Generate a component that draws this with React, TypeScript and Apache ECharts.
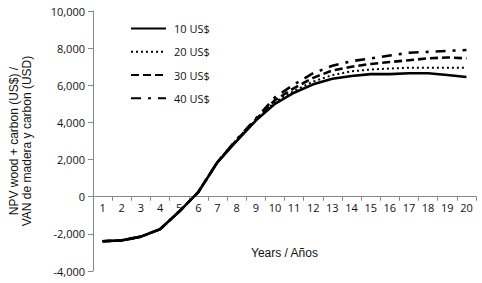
import React, { useEffect, useRef } from "react";
import * as echarts from "echarts";

const years = ["1","2","3","4","5","6","7","8","9","10","11","12","13","14","15","16","17","18","19","20"];
const seriesNames = ["10 US$", "20 US$", "30 US$", "40 US$"];
const us10 = [-2400, -2350, -2150, -1750, -800, 250, 1850, 3000, 4100, 5000, 5600, 6050, 6350, 6500, 6600, 6600, 6650, 6650, 6550, 6450];
const us20 = [-2400, -2350, -2150, -1750, -800, 250, 1850, 3000, 4120, 5100, 5700, 6200, 6550, 6750, 6850, 6900, 6950, 6950, 6950, 6950];
const us30 = [-2400, -2350, -2150, -1750, -800, 250, 1870, 3050, 4150, 5200, 5850, 6400, 6800, 7000, 7150, 7250, 7350, 7450, 7500, 7450];
const us40 = [-2400, -2350, -2150, -1750, -800, 250, 1880, 3080, 4200, 5350, 6050, 6650, 7050, 7300, 7450, 7600, 7750, 7800, 7850, 7900];
const yTicks = { min: -4000, max: 10000, interval: 2000 };

export default function App() {
  const ref = useRef<HTMLDivElement>(null);
  useEffect(() => {
    document.body.style.margin = "0";
    const chart = echarts.init(ref.current!, null, { renderer: "svg" });
    const lbl = { fontFamily: "Open Sans", fontSize: 11, color: "#111" };
    const styles: any[] = [
      { type: "solid", width: 2.6 },
      { type: [2, 3], width: 2 },
      { type: [8, 4], width: 2.6 },
      { type: [10, 7, 3, 7], width: 2.6 },
    ];
    const datas = [us10, us20, us30, us40];
    const top = 11, bottom = 12, H = 283;
    const plotH = H - top - bottom;
    const zeroFromBottom = (0 - yTicks.min) / (yTicks.max - yTicks.min) * plotH;
    chart.setOption({
      animation: false,
      grid: { left: 93, right: 6, top, bottom, containLabel: false, outerBoundsMode: "none" },
      legend: {
        orient: "vertical",
        left: 130,
        top: 23,
        padding: 0,
        itemWidth: 35,
        itemHeight: 14,
        itemGap: 12,
        itemStyle: { opacity: 0, color: "rgba(0,0,0,0)", borderWidth: 0 },
        textStyle: { ...lbl, padding: [0, 0, 0, 3] },
        data: seriesNames,
      },
      xAxis: {
        type: "category",
        data: years,
        boundaryGap: true,
        position: "bottom",
        offset: -zeroFromBottom,
        axisLine: { show: true, onZero: false, lineStyle: { color: "#888", width: 1 } },
        axisTick: { show: true, length: 4, inside: false, lineStyle: { color: "#888" } },
        axisLabel: { ...lbl, margin: 5, interval: 0 },
        name: "Years / Años",
        nameLocation: "middle",
        nameGap: 50,
        nameTextStyle: { fontFamily: "Liberation Sans", fontSize: 12, color: "#111" },
      },
      yAxis: {
        type: "value",
        min: yTicks.min,
        max: yTicks.max,
        interval: yTicks.interval,
        axisLine: { show: true, onZero: false, lineStyle: { color: "#888", width: 1 } },
        axisTick: { show: true, length: 5, lineStyle: { color: "#888" } },
        splitLine: { show: false },
        axisLabel: { ...lbl, margin: 8, formatter: (v: number) => v.toLocaleString("en-US") },
        name: "NPV wood + carbon (US$) /\nVAN de madera y carbon (USD)",
        nameLocation: "middle",
        nameRotate: 90,
        nameGap: 60,
        nameTextStyle: { fontFamily: "Liberation Sans", fontSize: 12, color: "#111", lineHeight: 13 },
      },
      series: seriesNames.map((n, i) => ({
        name: n,
        type: "line",
        data: datas[i],
        symbol: "none",
        showSymbol: false,
        z: 10 - i,
        lineStyle: { color: "#000", width: styles[i].width, type: styles[i].type, cap: "butt" },
        itemStyle: { color: "#000" },
      })),
    });
    return () => chart.dispose();
  }, []);
  return <div ref={ref} style={{ width: 482, height: 283 }} />;
}
